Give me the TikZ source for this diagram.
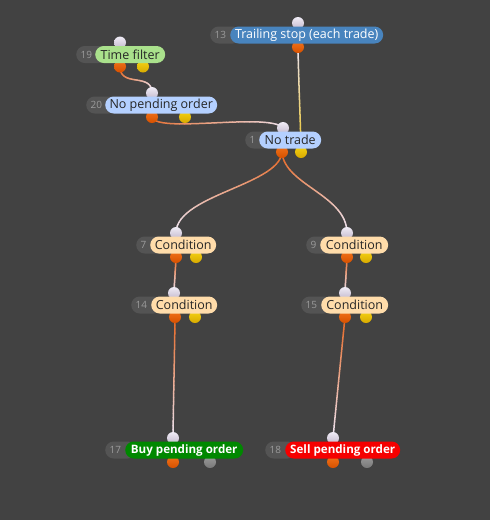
\documentclass[tikz,border=0pt]{standalone}
\usepackage{fontspec}
\setmainfont{Open Sans}
\usetikzlibrary{calc}
\pgfdeclarelayer{back}
\pgfdeclarelayer{bg}
\pgfsetlayers{back,bg,main}
\definecolor{bgc}{RGB}{66,66,66}
\definecolor{numgrey}{RGB}{84,84,84}
\definecolor{numtext}{RGB}{155,155,155}
\definecolor{cgreen}{RGB}{170,225,140}
\definecolor{cblue}{RGB}{180,208,255}
\definecolor{csteel}{RGB}{72,132,190}
\definecolor{cpeach}{RGB}{255,220,170}
\definecolor{cbuy}{RGB}{0,136,0}
\definecolor{csell}{RGB}{245,0,0}
\definecolor{porangeT}{RGB}{240,115,25}
\definecolor{porangeB}{RGB}{215,80,0}
\definecolor{pyellowT}{RGB}{245,210,20}
\definecolor{pyellowB}{RGB}{215,170,0}
\definecolor{pinT}{RGB}{240,236,246}
\definecolor{pinB}{RGB}{195,185,205}
\definecolor{pgreyT}{RGB}{155,155,155}
\definecolor{pgreyB}{RGB}{120,120,120}
\definecolor{lorange}{RGB}{230,100,30}
\definecolor{lwhite}{RGB}{236,228,242}
\definecolor{lyellow}{RGB}{235,195,30}
\tikzset{
  portc/.style={circle, minimum size=12pt, inner sep=0pt},
  inport/.style={portc, top color=pinT, bottom color=pinB},
  oport/.style={portc, top color=porangeT, bottom color=porangeB},
  yport/.style={portc, top color=pyellowT, bottom color=pyellowB},
  gport/.style={portc, top color=pgreyT, bottom color=pgreyB},
  pill/.style={rounded corners=8.5pt, minimum height=17pt, inner sep=0pt, anchor=west,
    font=\fontsize{12.5}{14}\selectfont, text=black!85},
  boldpill/.style={pill, text=white, font=\fontsize{11.6}{14}\selectfont\bfseries},
  numpill/.style={fill=numgrey, rounded corners=8.5pt, minimum height=17pt, inner xsep=4.5pt,
    inner ysep=0pt, text width=22pt, align=left, anchor=west, text=numtext,
    font=\fontsize{10}{11}\selectfont},
  link/.style={line width=1.5pt, line cap=round},
}
% gradient cubic connector: #1 start, #2 c1, #3 c2, #4 end, #5 start colour, #6 end colour
\newcommand\glink[6]{%
  \coordinate (bzA) at #1;
  \coordinate (bzB) at #2;
  \coordinate (bzC) at #3;
  \coordinate (bzD) at #4;
  \coordinate (gl0) at (bzA);
  \foreach \k [evaluate=\k as \t using \k/30, evaluate=\k as \j using int(\k-1),
               evaluate=\k as \pc using int(100-100*(\k-0.5)/30)] in {1,...,30}{
    \coordinate (qa) at ($(bzA)!\t!(bzB)$);
    \coordinate (qb) at ($(bzB)!\t!(bzC)$);
    \coordinate (qc) at ($(bzC)!\t!(bzD)$);
    \coordinate (qd) at ($(qa)!\t!(qb)$);
    \coordinate (qe) at ($(qb)!\t!(qc)$);
    \coordinate (gl\k) at ($(qd)!\t!(qe)$);
    \draw[link, draw=#5!\pc!#6] (gl\j) -- (gl\k);
  }%
}
\begin{document}
\begin{tikzpicture}[x=1pt, y=-1pt]
\begin{pgfonlayer}{back}
\fill[bgc] (0,0) rectangle (490,520);
\end{pgfonlayer}
\useasboundingbox (0,0) rectangle (490,520);

% ports
\node[inport] (p19i) at (120,42.5) {};
\node[oport] (p19o) at (120,66.5) {};
\node[yport] (p19y) at (143,66.5) {};

\node[inport] (p20i) at (152,93) {};
\node[oport] (p20o) at (152,117) {};
\node[yport] (p20y) at (185,117) {};

\node[inport] (p13i) at (298,23) {};
\node[oport] (p13o) at (298,47) {};

\node[inport] (p1i) at (283,128) {};
\node[oport] (p1o) at (282,152) {};
\node[yport] (p1y) at (301,152) {};

\node[inport] (p7i) at (176,233) {};
\node[oport] (p7o) at (176,257) {};
\node[yport] (p7y) at (196,257) {};

\node[inport] (p9i) at (347,233) {};
\node[oport] (p9o) at (347,257) {};
\node[yport] (p9y) at (366,257) {};

\node[inport] (p14i) at (174,293) {};
\node[oport] (p14o) at (175,317) {};
\node[yport] (p14y) at (195,317) {};

\node[inport] (p15i) at (345,293) {};
\node[oport] (p15o) at (345,317) {};
\node[yport] (p15y) at (366,317) {};

\node[inport] (p17i) at (173,438) {};
\node[oport] (p17o) at (173,462) {};
\node[gport] (p17g) at (210,462) {};

\node[inport] (p18i) at (333,438) {};
\node[oport] (p18o) at (333,462) {};
\node[gport] (p18g) at (367,462) {};

% node pills
\node[numpill] (g19) at (76,54.5) {19};
\node[pill, fill=cgreen, minimum width=70pt] (n19) at (95,54.5) {Time filter};

\node[numpill] (g20) at (86,105) {20};
\node[pill, fill=cblue, minimum width=112pt] (n20) at (105,105) {No pending order};

\node[numpill] (g13) at (210,35) {13};
\node[pill, fill=csteel, minimum width=153pt, text=white] (n13) at (230,35) {Trailing stop (each trade)};

\node[numpill] (g1) at (245,140) {1};
\node[pill, fill=cblue, minimum width=62pt] (n1) at (259,140) {No trade};

\node[numpill] (g7) at (136,245) {7};
\node[pill, fill=cpeach, minimum width=66pt] (n7) at (150,245) {Condition};

\node[numpill] (g9) at (306,245) {9};
\node[pill, fill=cpeach, minimum width=68pt] (n9) at (320,245) {Condition};

\node[numpill] (g14) at (131,305) {14};
\node[pill, fill=cpeach, minimum width=66pt] (n14) at (151,305) {Condition};

\node[numpill] (g15) at (301,305) {15};
\node[pill, fill=cpeach, minimum width=67pt] (n15) at (321,305) {Condition};

\node[numpill] (g17) at (105,450) {17};
\node[boldpill, fill=cbuy, minimum width=118pt] (n17) at (125,450) {Buy pending order};

\node[numpill] (g18) at (265,450) {18};
\node[boldpill, fill=csell, minimum width=115pt] (n18) at (285,450) {Sell pending order};

% connectors
\begin{pgfonlayer}{bg}
\glink{(p19o.center)}{(120,88)}{(152,72)}{(p20i.center)}{lorange}{lwhite}
\glink{(p20o.center)}{(156,134)}{(270,112)}{(p1i.center)}{lorange}{lwhite}
\glink{(p1y.center)}{(300.5,120)}{(298.5,80)}{(p13o.center)}{lyellow}{lwhite}
\glink{(p1o.center)}{(280,185)}{(176,195)}{(p7i.center)}{lorange}{lwhite}
\glink{(p1o.center)}{(284,185)}{(347,195)}{(p9i.center)}{lorange}{lwhite}
\glink{(p7o.center)}{(175.5,270)}{(174.5,280)}{(p14i.center)}{lorange}{lwhite}
\glink{(p9o.center)}{(346.5,270)}{(345.5,280)}{(p15i.center)}{lorange}{lwhite}
\glink{(p14o.center)}{(174.5,357)}{(173.5,397)}{(p17i.center)}{lorange}{lwhite}
\glink{(p15o.center)}{(341,357)}{(337,397)}{(p18i.center)}{lorange}{lwhite}
\end{pgfonlayer}
\end{tikzpicture}
\end{document}
